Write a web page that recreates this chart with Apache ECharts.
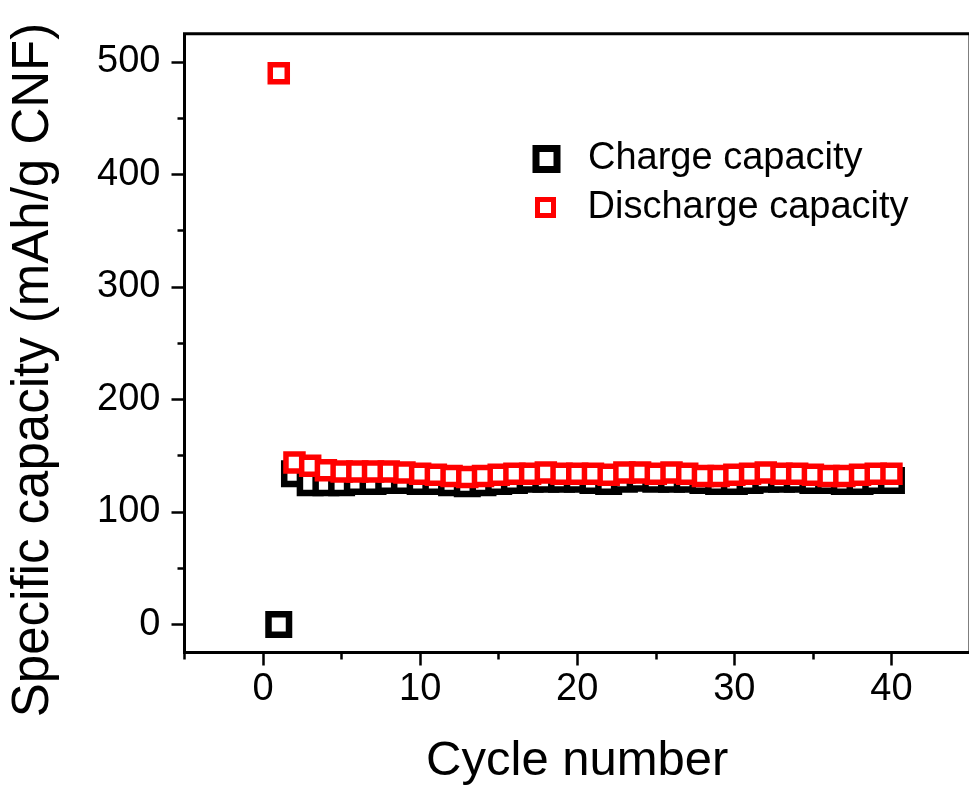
<!DOCTYPE html>
<html>
<head>
<meta charset="utf-8">
<title>Specific capacity vs cycle number</title>
<script src="https://cdn.jsdelivr.net/npm/echarts@6/dist/echarts.min.js"></script>
<style>
  html, body { margin: 0; padding: 0; background: #fff; }
  #chart { width: 969px; height: 787px; }
</style>
</head>
<body>
<div id="chart"></div>
<script>
// Cycling data: specific capacity (mAh/g CNF) per cycle
const cycles = [1, 2, 3, 4, 5, 6, 7, 8, 9, 10,
                11, 12, 13, 14, 15, 16, 17, 18, 19, 20,
                21, 22, 23, 24, 25, 26, 27, 28, 29, 30,
                31, 32, 33, 34, 35, 36, 37, 38, 39, 40];

const chargeCapacity = [0, 134, 126, 126, 126, 127, 127, 128, 128, 127,
                        127, 126, 125, 126, 127, 128, 129, 129, 129, 129,
                        128, 127, 129, 130, 129, 129, 129, 128, 127, 127,
                        128, 129, 129, 129, 128, 128, 127, 127, 128, 128];

const dischargeCapacity = [490, 144, 141, 137, 136, 136, 136, 136, 135, 134,
                           133, 132, 131, 132, 133, 134, 134, 135, 134, 134,
                           134, 133, 135, 135, 134, 135, 134, 132, 132, 133,
                           134, 135, 134, 134, 133, 132, 132, 133, 134, 134];

const seriesNames = ['Charge capacity', 'Discharge capacity'];
const xTitle = 'Cycle number';
const yTitle = 'Specific capacity (mAh/g CNF)';

const FONT = "'Liberation Sans', Arial, Helvetica, sans-serif";

// fresh style objects for every axis part
const tick = () => ({ color: '#000', width: 2.5 });
const noLine = () => ({ show: false, onZero: false });
const fixedGrid = () => ({ outerBoundsMode: 'none', containLabel: false });

const chart = echarts.init(document.getElementById('chart'), null, { renderer: 'canvas' });

chart.setOption({
  backgroundColor: '#fff',
  animation: false,
  grid: [
    // 0: plot frame + data
    Object.assign({ left: 184.5, right: -1, top: 33.8, bottom: 134.5, show: true,
      borderColor: '#000', borderWidth: 3, backgroundColor: 'transparent' }, fixedGrid()),
    // 1: x major ticks / labels (0..40)
    Object.assign({ left: 263.05, right: 77.55, top: 33.8, bottom: 134.5 }, fixedGrid()),
    // 2: y major ticks / labels (0..500)
    Object.assign({ left: 184.5, right: -1, top: 61.9, bottom: 162.6 }, fixedGrid()),
    // 3: y title placement
    Object.assign({ left: 184.5, right: -1, top: 115, bottom: 162 }, fixedGrid())
  ],
  xAxis: [
    { gridIndex: 0, type: 'value', min: -5, max: 45, interval: 50,
      axisLine: noLine(),
      axisTick: { show: true, inside: false, length: 7, lineStyle: tick() },
      axisLabel: { show: false }, splitLine: { show: false },
      name: xTitle, nameLocation: 'middle', nameGap: 84,
      nameTextStyle: { fontFamily: FONT, fontSize: 49, color: '#000' } },
    { gridIndex: 1, type: 'value', min: 0, max: 40, interval: 10,
      axisLine: noLine(),
      axisTick: { show: true, inside: false, length: 13, lineStyle: tick() },
      minorTick: { show: true, splitNumber: 2, length: 7, lineStyle: tick() },
      axisLabel: { show: true, margin: 18, color: '#000', fontFamily: FONT, fontSize: 38 },
      splitLine: { show: false }, minorSplitLine: { show: false } },
    { gridIndex: 2, type: 'value', show: false, axisLine: noLine() },
    { gridIndex: 3, type: 'value', show: false, axisLine: noLine() }
  ],
  yAxis: [
    { gridIndex: 0, type: 'value', min: -25, max: 525,
      axisLine: noLine(), axisTick: { show: false },
      axisLabel: { show: false }, splitLine: { show: false } },
    { gridIndex: 1, type: 'value', min: 0, max: 1, show: false, axisLine: noLine() },
    { gridIndex: 2, type: 'value', min: 0, max: 500, interval: 100,
      axisLine: noLine(),
      axisTick: { show: true, inside: false, length: 13, lineStyle: tick() },
      minorTick: { show: true, splitNumber: 2, length: 7, lineStyle: tick() },
      axisLabel: { show: true, margin: 24, color: '#000', fontFamily: FONT, fontSize: 38 },
      splitLine: { show: false }, minorSplitLine: { show: false } },
    { gridIndex: 3, type: 'value', min: 0, max: 1,
      axisLine: noLine(), axisTick: { show: false },
      axisLabel: { show: false }, splitLine: { show: false },
      name: yTitle, nameLocation: 'middle', nameGap: 125,
      nameTextStyle: { fontFamily: FONT, fontSize: 51, color: '#000' } }
  ],
  legend: [
    { data: [seriesNames[0]], left: 532.5, top: 140, padding: 0, orient: 'vertical',
      icon: 'rect', itemWidth: 21, itemHeight: 21, selectedMode: false,
      itemStyle: { color: '#fff', borderColor: '#000', borderWidth: 7, opacity: 1 },
      textStyle: { fontFamily: FONT, fontSize: 38, color: '#000', padding: [0, 0, 0, 26] } },
    { data: [seriesNames[1]], left: 535, top: 188.5, padding: 0, orient: 'vertical',
      icon: 'rect', itemWidth: 16, itemHeight: 16, selectedMode: false,
      itemStyle: { color: '#fff', borderColor: '#ff0000', borderWidth: 5, opacity: 1 },
      textStyle: { fontFamily: FONT, fontSize: 38, color: '#000', padding: [0, 0, 0, 29] } }
  ],
  series: [
    { name: seriesNames[0], type: 'scatter', xAxisIndex: 0, yAxisIndex: 0,
      symbol: 'rect', symbolSize: 20.5,
      itemStyle: { color: '#fff', borderColor: '#000', borderWidth: 6.5, opacity: 1 },
      data: cycles.map((c, i) => [c, chargeCapacity[i]]) },
    { name: seriesNames[1], type: 'scatter', xAxisIndex: 0, yAxisIndex: 0,
      symbol: 'rect', symbolSize: 17,
      itemStyle: { color: '#fff', borderColor: '#ff0000', borderWidth: 5.5, opacity: 1 },
      data: cycles.map((c, i) => [c, dischargeCapacity[i]]) }
  ]
});
</script>
</body>
</html>
